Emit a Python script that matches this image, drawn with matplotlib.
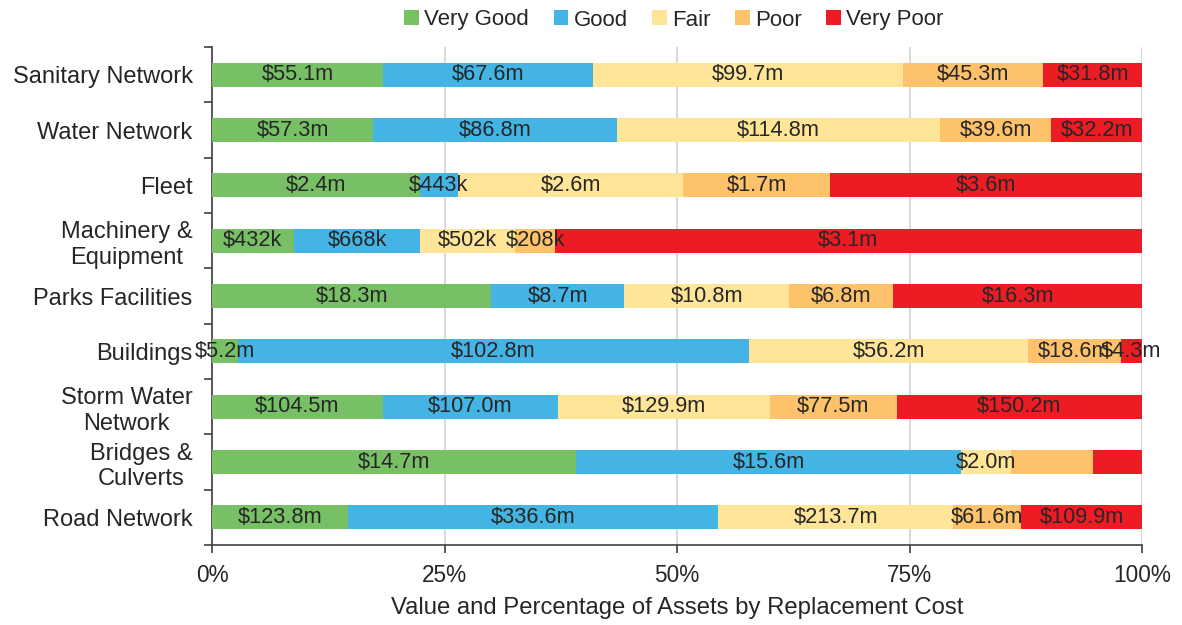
import matplotlib
matplotlib.use("Agg")
import matplotlib.pyplot as plt
import numpy as np

plt.rcParams['font.family'] = ['Liberation Sans', 'DejaVu Sans']

categories = ["Sanitary Network", "Water Network", "Fleet", "Machinery &\nEquipment",
              "Parks Facilities", "Buildings", "Storm Water\nNetwork", "Bridges &\nCulverts",
              "Road Network"]
# values in $ millions
very_good = [55.1, 57.3, 2.4, 0.432, 18.3, 5.2, 104.5, 14.7, 123.8]
good      = [67.6, 86.8, 0.443, 0.668, 8.7, 102.8, 107.0, 15.6, 336.6]
fair      = [99.7, 114.8, 2.6, 0.502, 10.8, 56.2, 129.9, 2.0, 213.7]
poor      = [45.3, 39.6, 1.7, 0.208, 6.8, 18.6, 77.5, 3.3, 61.6]
very_poor = [31.8, 32.2, 3.6, 3.1, 16.3, 4.3, 150.2, 2.0, 109.9]
series_names = ["Very Good", "Good", "Fair", "Poor", "Very Poor"]
colors = ["#77C066", "#43B4E3", "#FFE597", "#FEC36A", "#ED1C24"]
# labels not shown on chart (row index, series index)
hidden_labels = [(7, 3), (7, 4)]
xticks = [0, 25, 50, 75, 100]
xtick_labels = ["0%", "25%", "50%", "75%", "100%"]

def fmt(v):
    if v < 1:
        return f"${v*1000:.0f}k"
    return f"${v:.1f}m"

data = np.array([very_good, good, fair, poor, very_poor])
totals = data.sum(axis=0)
pct = data / totals * 100

fig = plt.figure(figsize=(11.82, 6.25), dpi=100)
ax = fig.add_axes([212/1182, 1-545/625, 930/1182, 498/625])
txt = "#262626"
y = np.arange(len(categories))
left = np.zeros(len(categories))
for s in range(5):
    ax.barh(y, pct[s], left=left, height=0.43, color=colors[s],
            label=series_names[s], zorder=3)
    for i in range(len(categories)):
        if (i, s) in hidden_labels:
            continue
        ax.text(left[i] + pct[s][i] / 2, y[i], fmt(data[s][i]), ha="center", va="center",
                fontsize=15.7, color=txt, zorder=4)
    left += pct[s]

ax.set_xlim(0, 100)
ax.set_ylim(len(categories) - 0.5, -0.5)
ax.set_xticks(xticks)
ax.set_xticklabels(xtick_labels, fontsize=16.3, color=txt)
ax.set_yticks(y)
ax.set_yticklabels(categories, fontsize=17, color=txt, multialignment="center")
ax.set_yticks(np.arange(-0.5, len(categories), 1), minor=True)
ax.tick_params(axis="y", which="major", length=0, pad=14)
ax.tick_params(axis="y", which="minor", length=6, color="#404040", width=1.2)
ax.tick_params(axis="x", which="major", length=6, color="#404040", width=1.2, pad=8)
ax.xaxis.grid(True, color="#D9D9D9", linewidth=1.5, zorder=0)
for sp in ["top", "right"]:
    ax.spines[sp].set_visible(False)
for sp in ["left", "bottom"]:
    ax.spines[sp].set_color("#404040")
    ax.spines[sp].set_linewidth(1.2)
ax.set_xlabel("Value and Percentage of Assets by Replacement Cost", fontsize=17.2, color=txt, labelpad=7)

ax.legend(loc="center", bbox_to_anchor=((674 - 212) / 930, 1 + (47 - 20) / 498),
          ncol=5, frameon=False, fontsize=16, handlelength=0.65, handleheight=0.65,
          handletextpad=0.25, columnspacing=1.1, labelcolor=txt)

fig.savefig("out.png", dpi=100)
